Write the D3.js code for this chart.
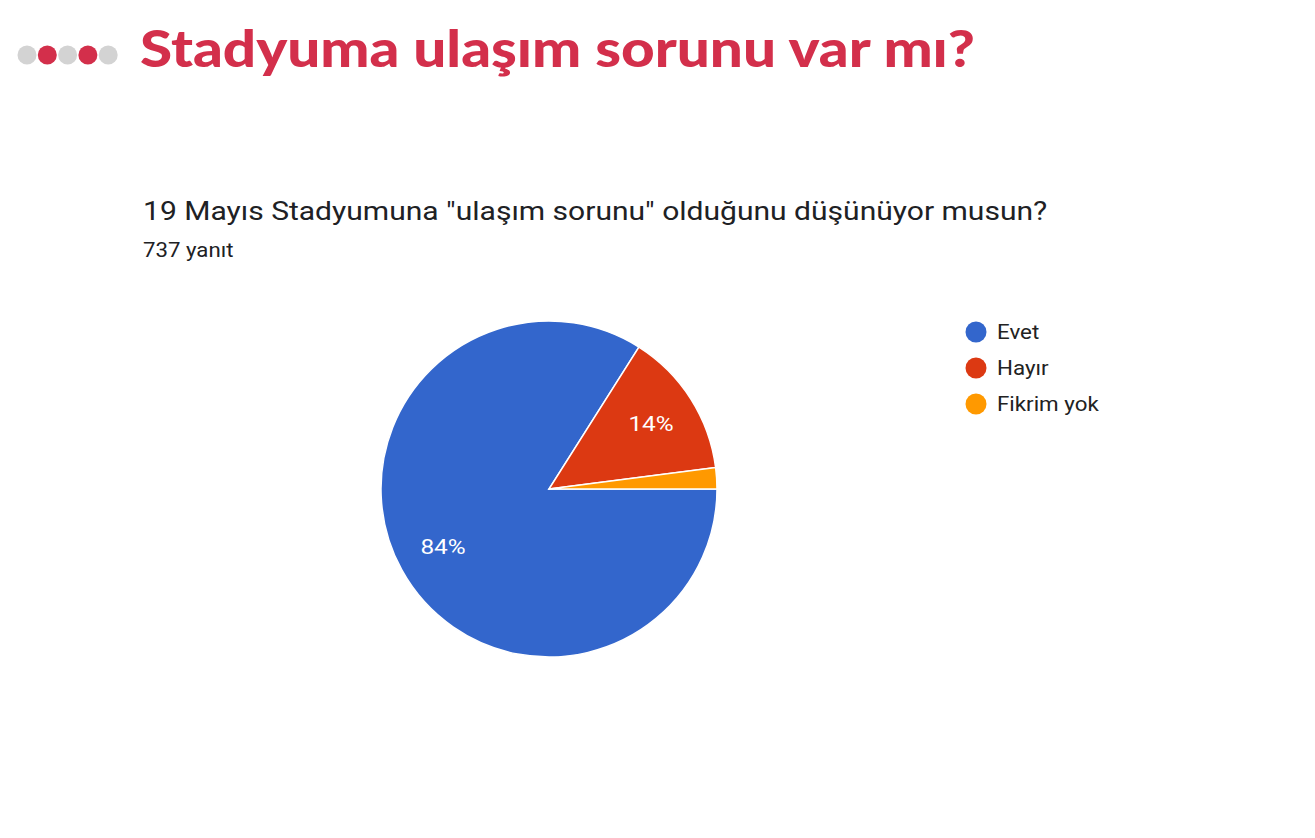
<!DOCTYPE html>
<html><head><meta charset="utf-8">
<script src="https://cdn.jsdelivr.net/npm/d3@7"></script>
<style>body{margin:0;background:#fff;}svg{display:block;}</style>
</head><body>
<svg id="c" width="1315" height="838"></svg>
<script>
const categories = ["Evet", "Hayır", "Fikrim yok"];
const counts = [619, 103, 15];
const colors = ["#3366cc", "#dc3912", "#ff9900"];
const titleText = "Stadyuma ulaşım sorunu var mı?";
const questionText = "19 Mayıs Stadyumuna \"ulaşım sorunu\" olduğunu düşünüyor musun?";
const responsesText = "737 yanıt";
const dotColors = ["#d3d3d3", "#d32f4b", "#d3d3d3", "#d32f4b", "#d3d3d3"];

const svg = d3.select("#c");
svg.append("rect").attr("width",1315).attr("height",838).attr("fill","#fff");

function stretch(sel, sx){
  sel.each(function(){
    const w = this.getComputedTextLength();
    d3.select(this).attr("textLength", w*sx).attr("lengthAdjust","spacingAndGlyphs");
  });
}

// decorative dots
svg.selectAll("circle.dot").data(dotColors).join("circle")
  .attr("class","dot")
  .attr("cx",(d,i)=>27+i*20.3).attr("cy",55).attr("r",9.5).attr("fill",d=>d);

svg.append("text").attr("x",140).attr("y",67)
  .attr("font-family","Lato, 'Open Sans', sans-serif").attr("font-weight",900)
  .attr("font-size",52).attr("fill","#d32f4b")
  .attr("textLength",835).attr("lengthAdjust","spacingAndGlyphs")
  .text(titleText);

svg.append("text").attr("x",143).attr("y",220)
  .attr("font-family","Roboto, sans-serif").attr("font-size",26).attr("fill","#202124")
  .text(questionText).call(stretch, 1.155);
svg.append("text").attr("x",143).attr("y",257)
  .attr("font-family","Roboto, sans-serif").attr("font-size",19.5).attr("fill","#202124")
  .text(responsesText).call(stretch, 1.14);

const total = d3.sum(counts);
const data = categories.map((c,i)=>({cat:c,value:counts[i],color:colors[i]}));
const pie = d3.pie().value(d=>d.value).sort(null)
  .startAngle(Math.PI/2).endAngle(Math.PI/2 + 2*Math.PI);
const R = 168;
const arc = d3.arc().innerRadius(0).outerRadius(R);
const labelArc = d3.arc().innerRadius(R*0.72).outerRadius(R*0.72);
const g = svg.append("g").attr("transform","translate(549,489)");
const arcs = pie(data);
g.selectAll("path").data(arcs).join("path")
  .attr("d",arc).attr("fill",d=>d.data.color)
  .attr("stroke","#fff").attr("stroke-width",1.5);
g.selectAll("text").data(arcs.filter(d=>d.data.value/total>=0.05)).join("text")
  .attr("transform",d=>`translate(${labelArc.centroid(d)})`)
  .attr("text-anchor","middle").attr("dy","0.35em")
  .attr("font-family","Roboto, Arial, sans-serif").attr("font-size",20).attr("font-weight",400).attr("fill","#fff")
  .text(d=>Math.round(d.data.value/total*100)+"%").call(stretch, 1.22);

const leg = svg.append("g").attr("transform","translate(976,332)");
const items = leg.selectAll("g").data(data).join("g")
  .attr("transform",(d,i)=>`translate(0,${i*36})`);
items.append("circle").attr("r",10.5).attr("fill",d=>d.color);
items.append("text").attr("x",21).attr("dy","0.35em")
  .attr("font-family","Roboto, Arial, sans-serif").attr("font-size",20.5).attr("fill","#222")
  .text(d=>d.cat).call(stretch, 1.09);
</script>
</body></html>
